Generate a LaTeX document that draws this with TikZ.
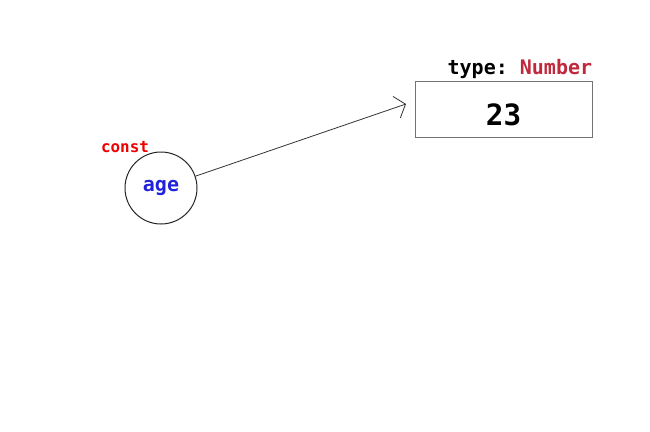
\documentclass[tikz,border=0pt]{standalone}
\usepackage{fontspec}
\setmonofont{DejaVu Sans Mono}
\usetikzlibrary{arrows.meta,positioning,calc}

\definecolor{varblue}{HTML}{2222DD}
\definecolor{kwred}{HTML}{EE0000}
\definecolor{typered}{HTML}{C0283C}

\tikzset{
  varnode/.style={draw=black!85,line width=0.75pt,circle,minimum size=54pt,inner sep=0pt,
    font=\ttfamily\bfseries\fontsize{15}{15}\selectfont,text=varblue},
  valbox/.style={draw=black!55,line width=0.6pt,minimum width=132.75pt,minimum height=42pt,
    inner sep=0pt,text height=25pt,text depth=0pt,
    font=\ttfamily\bfseries\fontsize{22}{22}\selectfont},
  ref/.style={draw=black!80,line width=0.6pt,-{Straight Barb[length=7pt,width=17pt]}}
}

\begin{document}
\begin{tikzpicture}[x=0.75pt,y=-0.75pt]
  \useasboundingbox (0,0) rectangle (650,432);
  % variable
  \node[varnode] (age) at (161,188) {age};
  \node[font=\ttfamily\bfseries\fontsize{11.9}{12}\selectfont,text=kwred,
    anchor=base] (kw) at (125,152) {const};
  % value
  \node[valbox] (val) at (503.5,109) {23};
  \node[font=\ttfamily\bfseries\fontsize{15}{15}\selectfont,anchor=base east,
    inner sep=0pt] (ty) at ([yshift=4.5pt]val.north east) {type: \textcolor{typered}{Number}};
  \coordinate (tip) at (406,104);
  \draw[ref] (age) -- (tip);
\end{tikzpicture}
\end{document}
